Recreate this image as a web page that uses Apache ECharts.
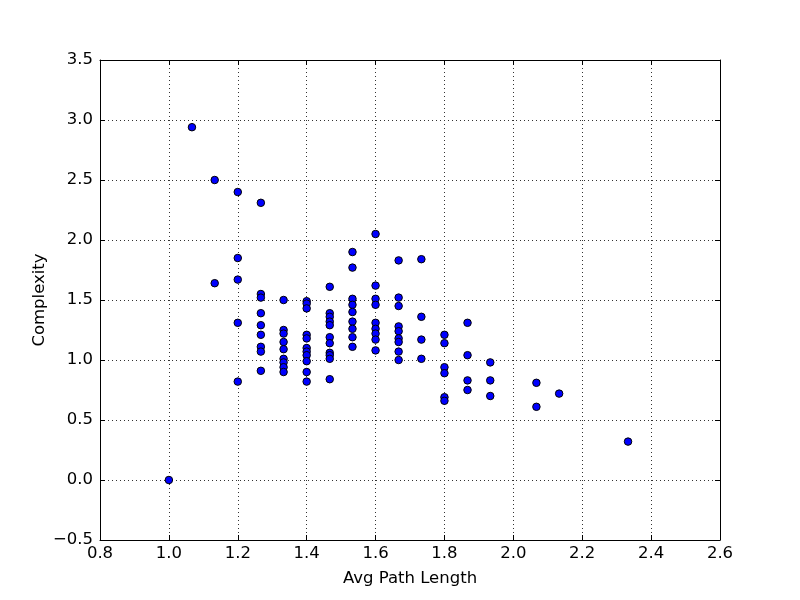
<!DOCTYPE html>
<html>
<head>
<meta charset="utf-8">
<script src="https://cdn.jsdelivr.net/npm/echarts@6/dist/echarts.min.js"></script>
<style>
  html, body { margin: 0; padding: 0; background: #fff; }
  #chart { width: 800px; height: 600px; }
</style>
</head>
<body>
<div id="chart"></div>
<script>
// one entry per point: avg path length and complexity
const avgPathLength = [
  1.0,
  1.067,
  1.133, 1.133,
  1.2, 1.2, 1.2, 1.2, 1.2,
  1.267, 1.267, 1.267, 1.267, 1.267, 1.267, 1.267, 1.267, 1.267,
  1.333, 1.333, 1.333, 1.333, 1.333, 1.333, 1.333, 1.333, 1.333,
  1.4, 1.4, 1.4, 1.4, 1.4, 1.4, 1.4, 1.4, 1.4, 1.4, 1.4,
  1.467, 1.467, 1.467, 1.467, 1.467, 1.467, 1.467, 1.467, 1.467, 1.467, 1.467,
  1.533, 1.533, 1.533, 1.533, 1.533, 1.533, 1.533, 1.533, 1.533,
  1.6, 1.6, 1.6, 1.6, 1.6, 1.6, 1.6, 1.6, 1.6,
  1.667, 1.667, 1.667, 1.667, 1.667, 1.667, 1.667, 1.667, 1.667,
  1.733, 1.733, 1.733, 1.733,
  1.8, 1.8, 1.8, 1.8, 1.8, 1.8,
  1.867, 1.867, 1.867, 1.867,
  1.933, 1.933, 1.933,
  2.067, 2.067,
  2.133,
  2.333
]
const complexity = [
  0.0,
  2.94,
  2.50, 1.64,
  2.40, 1.85, 1.67, 1.31, 0.82,
  2.31, 1.55, 1.52, 1.39, 1.29, 1.21, 1.11, 1.07, 0.91,
  1.50, 1.25, 1.22, 1.15, 1.09, 1.01, 0.98, 0.94, 0.90,
  1.49, 1.47, 1.43, 1.21, 1.18, 1.10, 1.07, 1.04, 0.99, 0.90, 0.82,
  1.61, 1.39, 1.36, 1.32, 1.29, 1.19, 1.14, 1.06, 1.04, 1.01, 0.84,
  1.90, 1.77, 1.51, 1.46, 1.40, 1.32, 1.26, 1.19, 1.11,
  2.05, 1.62, 1.51, 1.46, 1.31, 1.26, 1.22, 1.17, 1.08,
  1.83, 1.52, 1.45, 1.28, 1.24, 1.18, 1.15, 1.07, 1.00,
  1.84, 1.36, 1.17, 1.01,
  1.21, 1.14, 0.94, 0.89, 0.69, 0.66,
  1.31, 1.04, 0.83, 0.75,
  0.98, 0.83, 0.70,
  0.81, 0.61,
  0.72,
  0.32
]

const xRange = [0.8, 2.6, 0.2]
const yRange = [-0.5, 3.5, 0.5]

const FONT = '"DejaVu Sans", sans-serif'
const fmt = (v) => v.toFixed(1).replace('-', '\u2212')

const tickStyle = { show: true, inside: true, length: 5, lineStyle: { color: '#000', width: 1 } }
const frameLine = { show: true, onZero: false, lineStyle: { color: '#000', width: 1 } }
const gridLine = { show: true, lineStyle: { color: '#333', width: 1, type: [1, 3] } }
const labelStyle = { color: '#000', fontFamily: FONT, fontSize: 16.5 }

const chart = echarts.init(document.getElementById('chart'), null, { renderer: 'canvas' })

chart.setOption({
  animation: false,
  backgroundColor: '#fff',
  grid: { left: 100, right: 80, top: 60, bottom: 60 },
  xAxis: [
    {
      type: 'value', min: xRange[0], max: xRange[1], interval: xRange[2],
      name: 'Avg Path Length', nameLocation: 'middle', nameGap: 30, nameMoveOverlap: false,
      nameTextStyle: { ...labelStyle },
      axisLine: frameLine, axisTick: tickStyle,
      axisLabel: { ...labelStyle, margin: 5, formatter: fmt },
      splitLine: gridLine,
    },
    {
      type: 'value', position: 'top', min: xRange[0], max: xRange[1], interval: xRange[2],
      axisLine: frameLine, axisTick: tickStyle, axisLabel: { show: false }, splitLine: { show: false },
    },
  ],
  yAxis: [
    {
      type: 'value', min: yRange[0], max: yRange[1], interval: yRange[2],
      name: 'Complexity', nameLocation: 'middle', nameGap: 52, nameMoveOverlap: false,
      nameTextStyle: { ...labelStyle },
      axisLine: frameLine, axisTick: tickStyle,
      axisLabel: { ...labelStyle, margin: 7, formatter: fmt },
      splitLine: gridLine,
    },
    {
      type: 'value', position: 'right', min: yRange[0], max: yRange[1], interval: yRange[2],
      axisLine: frameLine, axisTick: tickStyle, axisLabel: { show: false }, splitLine: { show: false },
    },
  ],
  series: [{
    type: 'scatter',
    symbol: 'circle',
    symbolSize: 7.5,
    itemStyle: { color: '#0000ff', borderColor: '#000', borderWidth: 1, opacity: 1 },
    data: avgPathLength.map((x, i) => [x, complexity[i]]),
  }],
})
</script>
</body>
</html>
